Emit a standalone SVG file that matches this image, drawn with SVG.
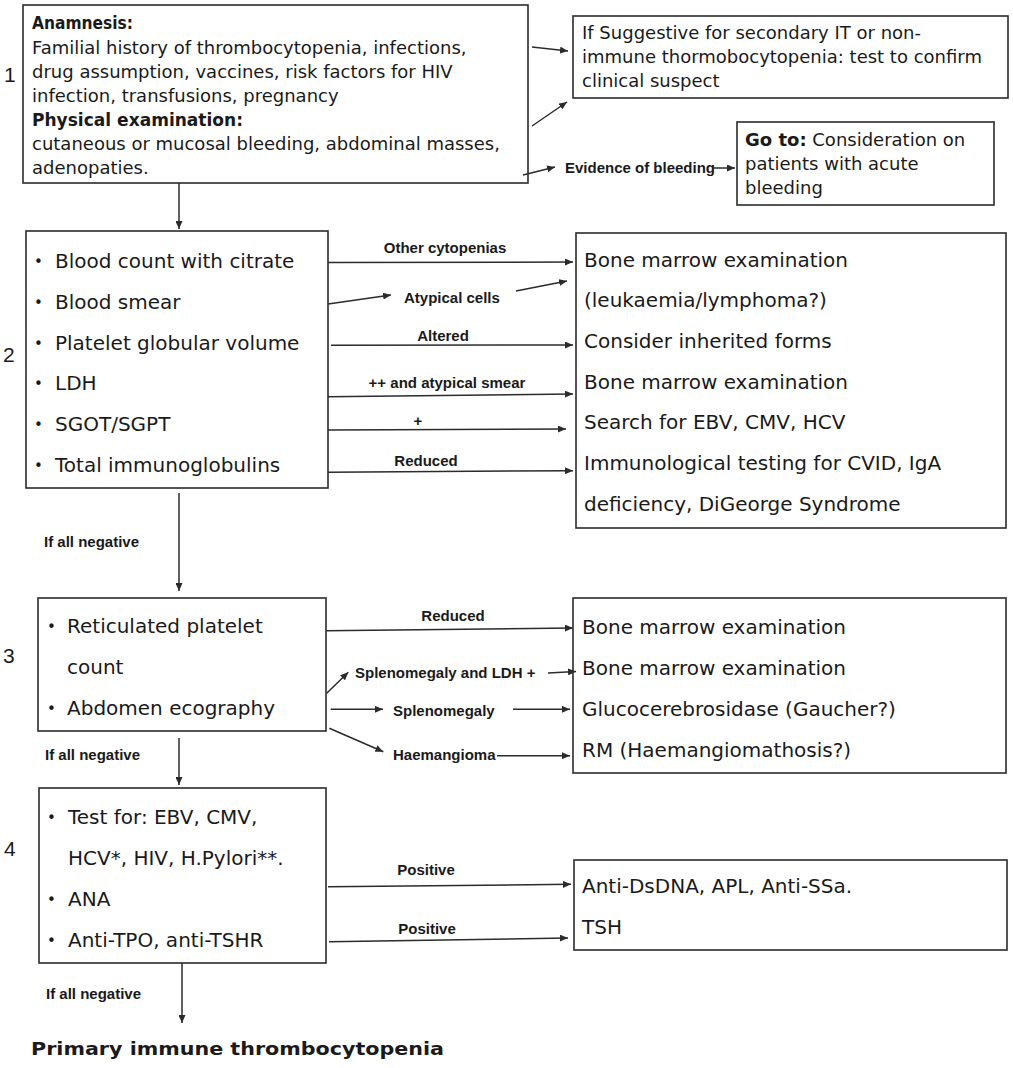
<svg xmlns="http://www.w3.org/2000/svg" width="1013" height="1068" viewBox="0 0 1013 1068">
<style>
.box{fill:#fff;stroke:#2b2b2b;stroke-width:1.6}
.t{font-family:"DejaVu Sans",sans-serif;font-size:18px;fill:#1a1a1a}
.tl{font-family:"DejaVu Sans",sans-serif;font-size:20px;fill:#1a1a1a}
.bul{font-family:"DejaVu Sans",sans-serif;font-size:15px;fill:#1a1a1a}
.hb{font-weight:bold}
.lb{font-family:"Liberation Sans",Arial,sans-serif;font-size:15px;font-weight:bold;fill:#1a1a1a}
.num{font-family:"Liberation Sans",Arial,sans-serif;font-size:21px;fill:#1a1a1a}
.ln{fill:none;stroke:#2b2b2b;stroke-width:1.5;marker-end:url(#ah)}
.pl{fill:none;stroke:#2b2b2b;stroke-width:1.5}
</style>
<defs>
<marker id="ah" markerUnits="userSpaceOnUse" markerWidth="8" markerHeight="7" refX="8" refY="3.5" orient="auto">
<path d="M0,0 L8,3.5 L0,7 z" fill="#2b2b2b"/>
</marker>
</defs>
<rect width="1013" height="1068" fill="#fff"/>

<g id="step-numbers">
<text class="num" x="4" y="82">1</text>
<text class="num" x="3" y="362">2</text>
<text class="num" x="3" y="663">3</text>
<text class="num" x="4" y="856">4</text>
</g>

<g id="node-anamnesis">
<rect class="box" x="23" y="5" width="505" height="178"/>
<text class="t hb" x="32" y="29" textLength="101" lengthAdjust="spacingAndGlyphs">Anamnesis:</text>
<text class="t" x="32" y="54">Familial history of thrombocytopenia, infections,</text>
<text class="t" x="32" y="78">drug assumption, vaccines, risk factors for HIV</text>
<text class="t" x="32" y="102">infection, transfusions, pregnancy</text>
<text class="t hb" x="32" y="126" textLength="211" lengthAdjust="spacingAndGlyphs">Physical examination:</text>
<text class="t" x="32" y="150">cutaneous or mucosal bleeding, abdominal masses,</text>
<text class="t" x="32" y="174">adenopaties.</text>
</g>

<g id="node-suggestive">
<rect class="box" x="573" y="16" width="435" height="82"/>
<text class="t" x="582" y="39">If Suggestive for secondary IT or non-</text>
<text class="t" x="582" y="63">immune thormobocytopenia: test to confirm</text>
<text class="t" x="582" y="87">clinical suspect</text>
</g>

<g id="node-goto">
<rect class="box" x="737" y="122" width="257" height="83"/>
<text class="t" x="745" y="146"><tspan class="hb">Go to:</tspan> Consideration on</text>
<text class="t" x="745" y="170">patients with acute</text>
<text class="t" x="745" y="194">bleeding</text>
</g>

<g id="node-step2">
<rect class="box" x="26" y="231" width="302" height="257"/>
<text class="bul" x="34" y="267">•</text><text class="tl" x="55" y="268">Blood count with citrate</text>
<text class="bul" x="34" y="308">•</text><text class="tl" x="55" y="309">Blood smear</text>
<text class="bul" x="34" y="349">•</text><text class="tl" x="55" y="350">Platelet globular volume</text>
<text class="bul" x="34" y="389">•</text><text class="tl" x="55" y="390">LDH</text>
<text class="bul" x="34" y="430">•</text><text class="tl" x="55" y="431">SGOT/SGPT</text>
<text class="bul" x="34" y="471">•</text><text class="tl" x="55" y="472">Total immunoglobulins</text>
</g>

<g id="node-step2-results">
<rect class="box" x="576" y="233" width="430" height="295"/>
<text class="tl" x="584" y="267">Bone marrow examination</text>
<text class="tl" x="584" y="307">(leukaemia/lymphoma?)</text>
<text class="tl" x="584" y="348">Consider inherited forms</text>
<text class="tl" x="584" y="389">Bone marrow examination</text>
<text class="tl" x="584" y="429">Search for EBV, CMV, HCV</text>
<text class="tl" x="584" y="470">Immunological testing for CVID, IgA</text>
<text class="tl" x="584" y="511">deficiency, DiGeorge Syndrome</text>
</g>

<g id="node-step3">
<rect class="box" x="38" y="598" width="288" height="133"/>
<text class="bul" x="47" y="632">•</text><text class="tl" x="67" y="633">Reticulated platelet</text>
<text class="tl" x="67" y="674">count</text>
<text class="bul" x="47" y="714">•</text><text class="tl" x="67" y="715">Abdomen ecography</text>
</g>

<g id="node-step3-results">
<rect class="box" x="573" y="598" width="433" height="175"/>
<text class="tl" x="582" y="634">Bone marrow examination</text>
<text class="tl" x="582" y="675">Bone marrow examination</text>
<text class="tl" x="582" y="716">Glucocerebrosidase (Gaucher?)</text>
<text class="tl" x="582" y="757">RM (Haemangiomathosis?)</text>
</g>

<g id="node-step4">
<rect class="box" x="39" y="788" width="287" height="175"/>
<text class="bul" x="47" y="823">•</text><text class="tl" x="68" y="824">Test for: EBV, CMV,</text>
<text class="tl" x="68" y="865">HCV*, HIV, H.Pylori**.</text>
<text class="bul" x="47" y="905">•</text><text class="tl" x="68" y="906">ANA</text>
<text class="bul" x="47" y="946">•</text><text class="tl" x="68" y="947">Anti-TPO, anti-TSHR</text>
</g>

<g id="node-step4-results">
<rect class="box" x="574" y="860" width="433" height="90"/>
<text class="tl" x="582" y="893">Anti-DsDNA, APL, Anti-SSa.</text>
<text class="tl" x="582" y="934">TSH</text>
</g>

<g id="node-primary">
<text class="t hb" x="31" y="1055" font-size="23.5" textLength="413" lengthAdjust="spacingAndGlyphs">Primary immune thrombocytopenia</text>
</g>

<g id="connectors">
<line class="ln" x1="532" y1="47" x2="568" y2="51"/>
<line class="ln" x1="532" y1="126" x2="567" y2="102"/>
<line class="ln" x1="523" y1="175" x2="555" y2="167"/>
<text class="lb" x="565" y="173">Evidence of bleeding</text>
<line class="ln" x1="713" y1="168" x2="735" y2="168"/>
<line class="ln" x1="179" y1="183" x2="179" y2="229"/>

<line class="ln" x1="328" y1="262.5" x2="573" y2="262"/>
<text class="lb" x="445" y="253" text-anchor="middle">Other cytopenias</text>
<line class="ln" x1="328" y1="304" x2="391" y2="295"/>
<text class="lb" x="404" y="303">Atypical cells</text>
<line class="ln" x1="516" y1="291" x2="567" y2="281"/>
<line class="ln" x1="331" y1="345.3" x2="573" y2="345"/>
<text class="lb" x="443" y="341" text-anchor="middle">Altered</text>
<line class="ln" x1="328" y1="396.7" x2="573" y2="394"/>
<text class="lb" x="447" y="388" text-anchor="middle">++ and atypical smear</text>
<line class="ln" x1="328" y1="430" x2="566" y2="429"/>
<text class="lb" x="418" y="426" text-anchor="middle">+</text>
<line class="ln" x1="328" y1="472.3" x2="573" y2="470.7"/>
<text class="lb" x="426" y="466" text-anchor="middle">Reduced</text>

<line class="ln" x1="179" y1="493" x2="179" y2="591"/>
<text class="lb" x="44" y="547">If all negative</text>

<line class="ln" x1="326" y1="630.7" x2="573" y2="628"/>
<text class="lb" x="453" y="621" text-anchor="middle">Reduced</text>
<line class="ln" x1="326.7" y1="693.3" x2="348.3" y2="672.3"/>
<text class="lb" x="355" y="678">Splenomegaly and LDH +</text>
<line class="ln" x1="548" y1="673" x2="576" y2="671.5"/>
<line class="ln" x1="330.7" y1="709.3" x2="383" y2="709.3"/>
<text class="lb" x="393" y="715.7">Splenomegaly</text>
<line class="ln" x1="513" y1="709.3" x2="570" y2="709.3"/>
<line class="ln" x1="329.3" y1="728.3" x2="383.3" y2="751.7"/>
<text class="lb" x="393" y="760">Haemangioma</text>
<line class="ln" x1="497" y1="755.7" x2="570" y2="755.7"/>

<line class="ln" x1="179" y1="738" x2="179" y2="785"/>
<text class="lb" x="45" y="760">If all negative</text>

<line class="ln" x1="328" y1="886.7" x2="571" y2="884.3"/>
<text class="lb" x="426" y="875" text-anchor="middle">Positive</text>
<line class="ln" x1="329" y1="941.7" x2="568" y2="938"/>
<text class="lb" x="427" y="934" text-anchor="middle">Positive</text>

<line class="ln" x1="182" y1="963" x2="182" y2="1023"/>
<text class="lb" x="46" y="999">If all negative</text>
</g>
</svg>
